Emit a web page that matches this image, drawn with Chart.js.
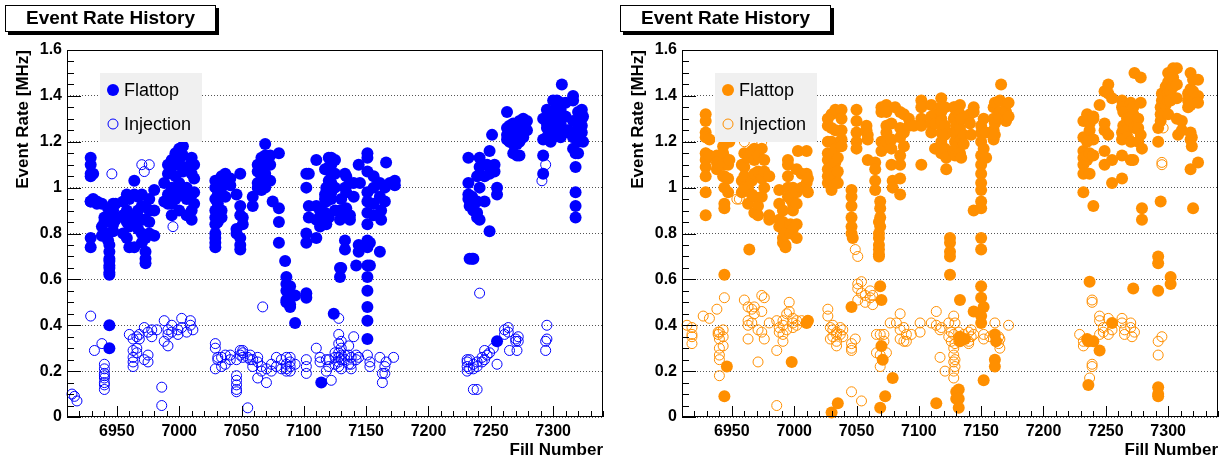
<!DOCTYPE html>
<html>
<head>
<meta charset="utf-8">
<script src="https://cdn.jsdelivr.net/npm/chart.js@4.4.1/dist/chart.umd.min.js"></script>
<style>
  html, body { margin: 0; padding: 0; background: #fff; }
  #wrap { position: relative; width: 1229px; height: 460px; overflow: hidden; }
  canvas { position: absolute; top: 0; }
  #left { left: 0; }
  #right { left: 615px; }
</style>
</head>
<body>
<div id="wrap">
  <canvas id="left" width="614" height="460"></canvas>
  <canvas id="right" width="614" height="460"></canvas>
</div>
<script>
// axis setup (fill number / event rate in MHz)
const fillMin = 6910, fillMax = 7340;
const fillTicks = [6950, 7000, 7050, 7100, 7150, 7200, 7250, 7300];
const rateTicks = [0, 0.2, 0.4, 0.6, 0.8, 1.0, 1.2, 1.4, 1.6];
const seriesNames = ['Flattop', 'Injection'];

// each row: [fill number, [rates measured in that fill]]
const leftFlattop = [
  [6929, [1.13, 1.10, 1.06, 1.05, 0.94, 0.94, 0.78, 0.74]], [6931, [1.06, 0.95]], [6934, [0.94, 0.93]],
  [6938, [0.83, 0.79, 0.93]], [6940, [0.85, 0.79, 0.87]], [6943, [0.91, 0.86, 0.80, 0.77]],
  [6944, [0.75, 0.72, 0.69, 0.68, 0.66, 0.65, 0.63, 0.62, 0.40, 0.30]], [6947, [0.93, 0.88, 0.84, 0.90, 0.81]],
  [6949, [0.93, 0.86]], [6955, [0.80, 0.88, 0.94]], [6958, [0.97, 0.90, 0.85, 0.78]], [6960, [0.95, 0.87, 0.83, 0.74]],
  [6964, [1.03, 0.97, 0.88, 0.84, 0.74]], [6967, [0.96, 0.90, 0.86, 0.82]], [6970, [0.97, 0.92, 0.86, 0.80, 0.76]],
  [6973, [0.92, 0.86, 0.78, 0.72, 0.69, 0.67]], [6976, [0.95, 0.90, 0.85, 0.80]], [6980, [0.99, 0.90, 0.79]],
  [6988, [0.94, 1.02]], [6991, [1.10, 1.06, 0.97, 0.93]], [6994, [1.12, 1.09, 1.00, 0.93, 0.88]],
  [6997, [1.15, 1.10, 1.05, 0.98, 0.95]], [7000, [1.17, 1.12, 1.02, 0.97, 0.90]], [7003, [1.18, 1.14, 1.07, 0.98]],
  [7006, [1.09, 1.00, 0.95, 0.88]], [7010, [1.13, 1.11, 1.06, 0.97, 0.90, 0.86]], [7012, [1.10, 1.04, 0.98, 0.93]],
  [7029, [1.03, 1.00, 0.95, 0.90, 0.87, 0.84, 0.80, 0.78, 0.76, 0.74]], [7031, [1.02, 0.97, 0.93, 0.88, 0.85]],
  [7034, [1.05, 1.00, 0.90, 0.87]], [7037, [1.06, 1.02, 0.96]], [7041, [1.04, 1.01]], [7046, [0.97, 0.82, 0.80]],
  [7049, [1.06, 0.92, 0.88, 0.78, 0.75, 0.73]], [7051, [0.87, 0.84]], [7059, [0.96, 0.92]],
  [7063, [1.10, 1.07, 1.02, 1.00]], [7066, [1.13, 1.09, 1.05, 0.99]], [7069, [1.19, 1.14, 1.11, 1.06, 1.03, 1.00]],
  [7073, [1.14, 1.10, 1.03]], [7075, [0.94]], [7080, [1.15, 0.91, 0.85, 0.76]], [7085, [0.68]],
  [7086, [0.61, 0.58, 0.55, 0.51, 0.50]], [7089, [0.57, 0.53, 0.49, 0.48]], [7093, [0.53, 0.41]],
  [7102, [0.54, 0.52, 0.76, 0.80, 1.00, 1.06]], [7104, [0.92, 0.87, 1.06]], [7110, [1.12, 0.92, 0.86, 0.78]],
  [7113, [0.90, 0.85, 0.83]], [7114, [0.15]], [7117, [1.08, 0.97, 0.95, 0.89]], [7120, [1.13, 1.09, 1.03, 0.87]],
  [7118, [1.00, 0.94, 0.88, 0.84]], [7122, [1.13, 1.10, 1.06, 1.02, 0.98, 0.95]], [7125, [1.12, 1.06, 1.00, 0.90]],
  [7124, [0.45]], [7129, [0.90, 0.86, 0.65, 0.61]], [7130, [0.95, 0.90, 0.65]], [7133, [0.77, 0.73, 1.06, 1.00]],
  [7134, [1.05, 0.98, 0.91, 0.88]], [7137, [1.02, 0.88, 0.86]], [7140, [1.02, 0.96]], [7142, [0.66]],
  [7144, [1.10, 0.75, 0.72]], [7145, [1.02]],
  [7151, [1.15, 1.13, 1.07, 0.98, 0.94, 0.89, 0.84, 0.77, 0.74, 0.66, 0.61, 0.55, 0.48, 0.42, 0.34]],
  [7153, [0.66, 0.76]], [7156, [1.05, 1.00, 0.93, 0.88]], [7161, [1.02, 0.96, 0.72]], [7162, [0.90, 0.86]],
  [7165, [1.00, 0.94]], [7166, [1.11]], [7169, [1.02]], [7173, [1.03, 1.01]],
  [7232, [1.13, 1.02, 0.97, 0.95]], [7233, [0.69, 0.92]], [7235, [0.96, 0.93, 0.69]], [7236, [0.69, 0.90]],
  [7239, [0.89, 0.87, 0.94, 1.05]], [7241, [1.09, 1.00, 0.86, 1.13]], [7245, [1.05, 0.94]], [7247, [1.10]],
  [7249, [0.81, 1.16, 1.09, 1.06]], [7251, [1.23]], [7253, [1.10, 1.07]], [7255, [1.00, 0.97, 0.33]],
  [7263, [1.33, 1.26, 1.23, 1.21]], [7265, [1.27, 1.24, 1.20]], [7268, [1.28, 1.25, 1.19, 1.15]],
  [7271, [1.28, 1.22, 1.19, 1.14]], [7273, [1.29, 1.26, 1.20, 1.14]], [7276, [1.30, 1.27, 1.22]], [7279, [1.29, 1.25]],
  [7292, [1.30, 1.21, 1.14, 1.06]], [7295, [1.34, 1.28, 1.26, 1.22]], [7298, [1.33, 1.30, 1.25, 1.20]],
  [7300, [1.38, 1.33, 1.27, 1.22]], [7303, [1.38, 1.36, 1.30, 1.26, 1.23]], [7306, [1.37, 1.34, 1.28, 1.22]],
  [7307, [1.45]], [7310, [1.37, 1.31, 1.25]], [7312, [1.25, 1.24]], [7316, [1.40, 1.38, 1.29, 1.22, 1.17]],
  [7318, [1.15, 1.09, 0.98, 0.92, 0.87]], [7320, [1.33, 1.26, 1.20, 1.15]], [7323, [1.34, 1.30, 1.27, 1.24]],
  [7324, [1.31, 1.20]]
];

const leftInjection = [
  [6914, [0.10]], [6916, [0.09]], [6918, [0.07]], [6929, [0.44]], [6932, [0.29]], [6938, [0.32]],
  [6940, [0.23, 0.21, 0.19, 0.18, 0.17, 0.15, 0.14, 0.12]], [6946, [1.06]], [6960, [0.36]],
  [6963, [0.34, 0.29, 0.26, 0.24, 0.22]], [6966, [0.35, 0.30, 0.28]], [6968, [0.36, 0.34]], [6970, [1.10]],
  [6972, [0.39, 1.07, 0.25]], [6975, [0.37, 0.24, 0.27]], [6976, [1.10]], [6978, [0.35, 0.38]], [6982, [0.38]],
  [6986, [0.13, 0.05]], [6988, [0.42, 0.33]], [6991, [0.36, 0.31, 0.38]], [6994, [0.40, 0.37]], [6995, [0.83]],
  [6999, [0.38, 0.36]], [7002, [0.43, 0.39]], [7006, [0.37]], [7009, [0.40, 0.42]], [7011, [0.38]],
  [7029, [0.32, 0.30, 0.21]], [7031, [0.26, 0.25]], [7034, [0.26, 0.22]], [7037, [0.27, 0.23]], [7041, [0.25, 0.27]],
  [7046, [0.25, 0.18, 0.16, 0.14, 0.12, 0.11]], [7049, [0.29, 0.27]], [7051, [0.29, 0.28, 0.26]], [7055, [0.04, 0.26]],
  [7057, [0.27, 0.25]], [7059, [0.25, 0.22]], [7063, [0.24, 0.17, 0.26]], [7066, [0.22, 0.20]], [7067, [0.48]],
  [7070, [0.21, 0.15]], [7074, [0.23, 0.20]], [7078, [0.26, 0.22]], [7082, [0.21, 0.25]],
  [7086, [0.23, 0.21, 0.20, 0.26]], [7089, [0.24, 0.22, 0.20, 0.26]], [7093, [0.23]], [7102, [0.25, 0.22, 0.19]],
  [7110, [0.30]], [7113, [0.26, 0.24]], [7118, [0.25, 0.20]], [7120, [0.25, 0.22]], [7122, [0.16]],
  [7125, [0.23, 0.26, 0.28]], [7128, [0.43, 0.36, 0.32, 0.28, 0.26, 0.24, 0.22]], [7130, [0.33, 0.30, 0.27, 0.25, 0.21]],
  [7133, [0.27, 0.25]], [7136, [0.31, 0.27, 0.23]], [7138, [0.26, 0.23, 0.21]], [7140, [0.35]], [7142, [0.27, 0.25]],
  [7144, [0.26]], [7151, [0.27]], [7153, [0.24, 0.22]], [7161, [0.26]], [7163, [0.19, 0.15]], [7165, [0.22, 0.19]],
  [7166, [0.24]], [7172, [0.26]],
  [7231, [0.25, 0.24, 0.22, 0.20]], [7233, [0.21, 0.25]], [7236, [0.12, 0.23, 0.21]], [7239, [0.12, 0.22, 0.24]],
  [7241, [0.54]], [7243, [0.26, 0.24]], [7245, [0.29, 0.25]], [7247, [0.27]], [7249, [0.28]], [7252, [0.30]],
  [7255, [0.23]], [7261, [0.36, 0.38]], [7264, [0.39, 0.37]], [7265, [0.29]], [7270, [0.34, 0.33]], [7271, [0.29]],
  [7272, [0.33, 0.35]], [7291, [1.03]], [7294, [1.10, 0.33, 0.29]], [7295, [0.40, 0.34]]
];

const rightFlattop = [
  [6929, [1.32, 1.29, 1.24, 1.22, 1.15, 1.12, 1.09, 1.05, 0.98, 0.88]], [6932, [1.21, 1.14]], [6938, [1.08, 1.14, 1.11]],
  [6943, [1.18, 1.15, 1.10, 1.05]], [6944, [1.05, 1.00, 0.93, 0.91, 0.62, 0.09]], [6946, [0.22]],
  [6947, [1.23, 1.10, 1.04, 0.98]], [6948, [1.20, 1.12]], [6958, [1.10, 1.03, 0.98]], [6960, [1.15, 1.09, 1.05, 1.00]],
  [6963, [1.13, 1.00, 0.93]], [6964, [0.73]], [6966, [1.16, 1.03, 0.97]], [6968, [1.17, 1.12, 1.06, 0.96, 0.89]],
  [6971, [1.14, 1.07, 0.92, 0.88]], [6974, [1.17, 1.04, 0.96]], [6976, [1.12, 1.07, 1.00]], [6980, [1.05, 0.88, 0.86]],
  [6988, [0.99, 0.93, 0.86, 0.83]], [6991, [0.90, 0.85, 0.82, 0.78, 0.76]], [6993, [0.75, 0.74, 0.80]],
  [6995, [1.12, 1.10, 1.05, 1.00, 0.96]], [6997, [0.95, 0.84, 0.80]], [6998, [0.24]], [6999, [1.00, 0.93, 0.90, 0.82]],
  [7002, [1.08, 0.98, 0.93, 0.84, 0.78]], [7003, [1.16]], [7006, [1.06, 1.00]], [7010, [1.16, 1.06, 1.02, 0.41]],
  [7011, [1.04, 0.98, 0.42]], [7027, [1.30, 1.27, 1.20, 1.15, 1.12, 1.08, 1.05, 1.02]],
  [7030, [1.32, 1.26, 1.20, 1.14, 1.09, 1.06, 1.03, 0.99, 0.02]], [7033, [1.34, 1.25, 1.17, 1.11, 1.05]],
  [7035, [1.13, 1.07, 1.02, 0.06]], [7038, [1.34, 1.30, 1.25, 1.21, 1.18]],
  [7046, [0.99, 0.96, 0.92, 0.87, 0.83, 0.80, 0.48]], [7047, [0.78]], [7050, [1.34, 1.29, 1.24, 1.20, 1.17]],
  [7058, [1.27, 1.25]], [7059, [1.12, 1.21, 1.23]], [7065, [1.11, 1.08, 1.03, 0.99]],
  [7068, [0.85, 0.80, 0.78, 0.75, 0.73, 0.71, 0.70]], [7069, [0.94, 0.91, 0.87, 0.83, 0.57, 0.04]],
  [7070, [1.35, 1.33, 1.20, 1.16, 0.51, 0.31]], [7071, [0.25]], [7073, [0.09]], [7074, [1.36, 1.33, 1.24, 1.20, 1.27]],
  [7078, [1.28, 1.21, 1.17, 1.10]], [7079, [1.03, 1.00, 0.17]], [7081, [1.35]],
  [7085, [1.33, 1.26, 1.22, 1.14, 1.10, 1.04, 0.97]], [7088, [1.32, 1.24, 1.18]], [7092, [1.30, 1.27]], [7096, [1.27]],
  [7102, [1.38, 1.35, 1.30, 1.27, 1.10]], [7110, [1.36, 1.31, 1.28, 1.24]], [7113, [1.32, 1.28, 1.17]], [7114, [0.06]],
  [7118, [1.39, 1.35, 1.30, 1.24, 1.33, 1.29, 1.20, 1.15]], [7121, [1.35, 1.27, 1.23, 1.17]], [7122, [1.13, 1.08]],
  [7125, [0.78, 0.76, 0.72, 0.70, 0.62]], [7128, [1.35, 1.30, 1.24, 1.16]], [7129, [1.35, 1.31, 1.20, 1.14]],
  [7130, [1.27, 1.23, 1.18, 0.11, 0.08]], [7132, [0.12, 0.08, 0.04]], [7133, [1.36, 1.32, 1.26, 1.20, 1.15, 0.51, 0.35, 0.33]],
  [7134, [1.30, 1.21, 1.13]], [7136, [1.23, 1.19]], [7137, [0.34]], [7141, [1.32, 1.28]], [7142, [1.23]],
  [7144, [1.35, 1.33, 0.90, 0.46]],
  [7150, [1.27, 1.24, 1.20, 1.14, 1.10, 1.06, 1.02, 0.99, 0.94, 0.91, 0.78, 0.73, 0.57, 0.52, 0.44, 0.41]],
  [7152, [1.30, 1.17, 0.48, 0.16]], [7154, [1.24, 1.13]], [7160, [1.35, 1.30, 1.25, 1.21]],
  [7161, [1.37, 1.28, 1.23, 0.36, 0.25, 0.22]], [7162, [0.33]], [7165, [1.38, 1.33, 1.30]], [7166, [1.45]],
  [7170, [1.36, 1.33, 1.29]], [7172, [1.37, 1.31]],
  [7232, [1.29, 1.22, 1.16, 1.13, 1.10, 1.06, 0.98]], [7235, [1.32, 1.20, 1.12, 1.14, 0.34]], [7236, [0.33, 0.14]],
  [7237, [1.28, 1.25, 1.15, 1.06, 0.59]], [7240, [1.31, 1.30, 1.21, 1.14, 0.92, 0.33]], [7245, [1.36, 0.29]],
  [7249, [1.42, 1.25, 1.16, 1.10, 1.28]], [7252, [1.45, 1.41, 1.23]], [7255, [1.39, 1.12, 1.02, 0.41]],
  [7263, [1.38, 1.35, 1.24, 1.21, 1.14, 1.04]], [7264, [1.33, 1.27]], [7267, [1.27, 1.30, 1.25, 1.22]],
  [7270, [1.37, 1.29, 1.20, 1.12]], [7272, [1.35, 1.32, 1.12, 0.56]], [7273, [1.50, 1.26]],
  [7276, [1.30, 1.26, 1.20]], [7278, [1.48, 1.37, 1.23]], [7279, [1.17, 0.91, 0.86]],
  [7292, [1.26, 1.20, 0.70, 0.67, 0.55, 0.13, 0.10, 0.09]], [7294, [1.35, 1.32, 1.29, 0.94]], [7295, [1.41, 1.38, 1.32]],
  [7298, [1.44, 1.40, 1.36]], [7300, [1.50, 1.46, 1.41, 1.38, 1.32]], [7302, [1.47, 1.42, 1.38, 0.61, 0.58]],
  [7304, [1.52, 1.48, 1.44]], [7307, [1.52, 1.45, 1.39, 1.30]], [7308, [1.23]], [7311, [1.29, 1.25]],
  [7316, [1.41, 1.38, 1.35]], [7318, [1.50, 1.43, 1.36, 1.24, 1.21, 1.08]], [7319, [1.22, 1.18]],
  [7320, [1.47, 1.42, 0.91]], [7324, [1.47, 1.40, 1.37, 1.11]]
];

const rightInjection = [
  [6914, [0.40]], [6918, [0.39, 0.36, 0.35, 0.32]], [6927, [0.44]], [6929, [1.15, 1.13]], [6932, [0.43]],
  [6938, [0.47]], [6939, [0.37, 0.36]], [6940, [0.37, 0.34, 0.30, 0.27, 0.25, 0.18]], [6943, [0.38, 0.35, 0.31]],
  [6944, [0.52]], [6947, [1.11]], [6954, [0.95]], [6956, [0.95]], [6960, [0.51, 1.20]], [6963, [0.48, 0.42, 0.40, 0.34]],
  [6966, [0.47, 0.41]], [6968, [0.48, 0.45]], [6971, [0.38, 0.24]], [6974, [0.53, 0.46, 0.37, 1.20]], [6976, [0.52, 0.34]],
  [6980, [0.41]], [6986, [0.42, 0.29, 0.05]], [6988, [0.39, 0.37]], [6991, [0.42, 0.40, 0.36, 0.33]], [6994, [0.45, 0.38]],
  [6996, [0.50, 0.46]], [6999, [0.43, 0.41, 0.39]], [7002, [0.42, 0.40]], [7006, [0.42]], [7011, [0.42]],
  [7027, [0.44, 0.47]], [7029, [0.39, 0.34]], [7031, [0.40, 0.38, 0.35]], [7034, [0.37, 0.33, 0.31, 0.36]],
  [7037, [0.39, 0.36]], [7039, [0.38, 0.35]], [7046, [0.32, 0.30, 0.29, 0.11]], [7049, [0.34, 0.73]],
  [7051, [0.70, 0.58, 0.56, 0.51]], [7054, [0.59, 0.54, 0.07]], [7057, [0.53, 0.50]], [7061, [0.55, 0.52]],
  [7063, [0.53, 0.49]], [7066, [0.36, 0.28]], [7069, [0.36, 0.27, 0.22]], [7072, [0.36, 0.33]], [7074, [0.28]],
  [7077, [0.41]], [7082, [0.41]], [7085, [0.45, 0.38, 0.34]], [7088, [0.39, 0.33]], [7090, [0.36, 0.33]], [7094, [0.36]],
  [7101, [0.41, 0.37]], [7110, [0.41]], [7114, [0.46, 0.40]], [7117, [0.38, 0.26]], [7118, [0.39]], [7121, [0.20]],
  [7124, [0.41, 0.35]], [7126, [0.37, 0.33]], [7128, [0.44, 0.36, 0.30, 0.27, 0.24, 0.20, 0.17]],
  [7129, [0.41, 0.32, 0.25, 0.22]], [7132, [0.37, 0.33]], [7136, [0.36, 0.34]], [7140, [0.37, 0.33, 0.32]],
  [7142, [0.38, 0.35]], [7144, [0.36]], [7152, [0.36, 0.34]], [7157, [0.35]], [7161, [0.41]], [7164, [0.35, 0.32]],
  [7165, [0.34, 0.30]], [7172, [0.40]],
  [7229, [0.36]], [7232, [0.33, 0.31]], [7236, [0.33]], [7237, [0.17]], [7239, [0.22, 0.23, 0.51, 0.50]], [7240, [0.33]],
  [7245, [0.44, 0.42, 0.36]], [7248, [0.39, 0.37]], [7252, [0.43, 0.36]], [7255, [0.38]], [7263, [0.43, 0.41]],
  [7265, [0.38, 0.36]], [7268, [1.22]], [7270, [0.41, 0.39]], [7271, [0.35, 1.20]], [7273, [0.37]],
  [7292, [0.33, 0.27]], [7295, [0.35, 1.11, 1.10]], [7296, [1.26]]
];

const FONT = "'Liberation Sans', Arial, Helvetica, sans-serif";
Chart.defaults.font.family = FONT;

function toPoints(rows) {
	return rows.flatMap(([fill, rates]) => rates.map(r => ({ x: fill, y: r })));
}

// ROOT-like frame, inward ticks, title pave, legend and axis titles
const rootStyle = {
	id: 'rootStyle',
	afterDatasetsDraw(chart) {
		const { ctx, chartArea: a, scales: { x, y } } = chart;
		ctx.save();
		ctx.strokeStyle = '#000';
		ctx.lineWidth = 1;
		ctx.beginPath();
		for (let i = 0; i <= 32; i++) {
			const py = Math.round(y.getPixelForValue(i * 0.05)) + 0.5;
			const len = i % 4 === 0 ? 14 : 7;
			ctx.moveTo(a.left, py);
			ctx.lineTo(a.left + len, py);
		}
		for (let f = Math.ceil(x.min / 10) * 10; f <= x.max; f += 10) {
			const px = Math.round(x.getPixelForValue(f)) + 0.5;
			const len = f % 50 === 0 ? 11 : 6;
			ctx.moveTo(px, a.bottom);
			ctx.lineTo(px, a.bottom - len);
		}
		ctx.stroke();
		ctx.strokeRect(Math.round(a.left) + 0.5, Math.round(a.top) + 0.5,
			Math.round(a.right - a.left) - 1, Math.round(a.bottom - a.top) - 1);
		ctx.restore();
	},
	afterDraw(chart) {
		const { ctx, chartArea: a } = chart;
		const sets = chart.data.datasets;
		const flat = sets.find(d => d.label === seriesNames[0]);
		const inj = sets.find(d => d.label === seriesNames[1]);
		ctx.save();

		// title pave with shadow
		ctx.fillStyle = '#000';
		ctx.fillRect(8, 8, 211, 27);
		ctx.fillStyle = '#fff';
		ctx.fillRect(5, 5, 211, 27);
		ctx.strokeStyle = '#000';
		ctx.lineWidth = 1;
		ctx.strokeRect(5.5, 5.5, 210, 26);
		ctx.fillStyle = '#000';
		ctx.font = 'bold 19px ' + FONT;
		ctx.textAlign = 'center';
		ctx.textBaseline = 'middle';
		ctx.fillText('Event Rate History', 110.5, 19);

		// legend
		ctx.fillStyle = '#f0f0f0';
		ctx.fillRect(100, 73, 102, 69);
		ctx.beginPath();
		ctx.arc(113, 90, 6, 0, Math.PI * 2);
		ctx.fillStyle = flat.pointBackgroundColor;
		ctx.fill();
		ctx.beginPath();
		ctx.arc(113, 124, 5, 0, Math.PI * 2);
		ctx.strokeStyle = inj.pointBorderColor;
		ctx.lineWidth = 1;
		ctx.stroke();
		ctx.fillStyle = '#000';
		ctx.font = '18px ' + FONT;
		ctx.textAlign = 'left';
		ctx.fillText(flat.label, 124, 91);
		ctx.fillText(inj.label, 124, 125);

		// axis titles
		ctx.font = 'bold 17px ' + FONT;
		ctx.textAlign = 'right';
		ctx.textBaseline = 'alphabetic';
		ctx.fillText('Fill Number', a.right, 455);
		ctx.translate(28, a.top);
		ctx.rotate(-Math.PI / 2);
		ctx.fillText('Event Rate [MHz]', 0, 0);
		ctx.restore();
	}
};

function makePanel(id, flatRows, injRows, color) {
	return new Chart(document.getElementById(id), {
		type: 'scatter',
		data: {
			datasets: [
				{
					label: seriesNames[1],
					data: toPoints(injRows),
					pointRadius: 5,
					pointHoverRadius: 5,
					pointBorderWidth: 1,
					pointBorderColor: color,
					pointBackgroundColor: 'rgba(0,0,0,0)',
					borderColor: color,
					backgroundColor: 'rgba(0,0,0,0)',
					order: 0,
					clip: false
				},
				{
					label: seriesNames[0],
					data: toPoints(flatRows),
					pointRadius: 6,
					pointHoverRadius: 6,
					pointBorderWidth: 0,
					pointBackgroundColor: color,
					borderColor: color,
					backgroundColor: color,
					order: 1,
					clip: false
				}
			]
		},
		options: {
			responsive: false,
			animation: false,
			devicePixelRatio: 1,
			events: [],
			layout: { padding: { top: 50, right: 11, left: 0, bottom: 0 } },
			plugins: { legend: { display: false }, tooltip: { enabled: false } },
			scales: {
				x: {
					type: 'linear',
					min: fillMin,
					max: fillMax,
					afterBuildTicks: s => { s.ticks = fillTicks.map(v => ({ value: v })); },
					afterFit: s => { s.height = 43; },
					grid: { display: false, drawTicks: false },
					border: { display: false },
					ticks: {
						color: '#000',
						font: { size: 16, weight: 'bold' },
						padding: 5,
						maxRotation: 0,
						autoSkip: false,
						callback: v => String(v)
					}
				},
				y: {
					min: 0,
					max: 1.6,
					afterBuildTicks: s => { s.ticks = rateTicks.map(v => ({ value: v })); },
					afterFit: s => { s.width = 67; },
					grid: { color: '#555', lineWidth: 1, drawTicks: false },
					border: { display: false, dash: [1, 2] },
					ticks: {
						color: '#000',
						font: { size: 16, weight: 'bold' },
						padding: 5,
						autoSkip: false,
						callback: v => String(+v.toFixed(1))
					}
				}
			}
		},
		plugins: [rootStyle]
	});
}

makePanel('left', leftFlattop, leftInjection, '#0000ff');
makePanel('right', rightFlattop, rightInjection, '#ff8f00');
</script>
</body>
</html>
